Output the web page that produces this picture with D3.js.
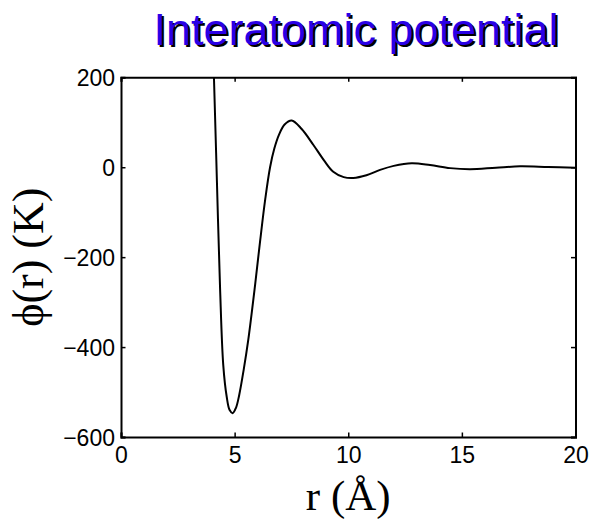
<!DOCTYPE html>
<html><head><meta charset="utf-8">
<script src="https://cdn.jsdelivr.net/npm/d3@7"></script>
<style>body{margin:0;background:#fff}</style>
</head><body>
<svg id="c" width="589" height="520"></svg>
<script>
const title = "Interatomic potential";
const xLabel = "r (Å)";
const yLabel = "\u03D5(r) (K)";
const xTicks = [0, 5, 10, 15, 20];
const yTicks = [200, 0, -200, -400, -600];
const rValues   = [3.95, 4.09, 4.22, 4.36, 4.50, 4.65, 4.78, 4.915, 5.06, 5.20, 5.40, 5.60, 5.90, 6.12, 6.35, 6.56, 6.75, 6.95, 7.20, 7.51, 7.95, 8.46, 8.95, 9.34, 9.80, 10.22, 10.8, 11.4, 12.0, 12.79, 13.6, 14.48, 15.36, 16.5, 17.56, 18.8, 20.0];
const phiValues = [380, 200, -30, -270, -440, -510, -540, -547, -535, -507, -450, -384, -262, -165, -70, 0, 42, 72, 95, 104, 85, 50, 14, -10, -22, -24, -18, -6, 3, 9, 5, -2, -4.4, -1, 2, 0.5, -1];

const svg = d3.select("#c");
const L = 121, R = 575.5, T = 77.3, B = 437;
const x = d3.scaleLinear().domain([0, 20]).range([L, R]);
const y = d3.scaleLinear().domain([-600, 200]).range([B, T]);

svg.append("clipPath").attr("id","clip").append("rect")
  .attr("x", L).attr("y", T).attr("width", R-L).attr("height", B-T);

const data = rValues.map((r,i)=>[r, phiValues[i]]);
svg.append("path").datum(data)
  .attr("clip-path","url(#clip)")
  .attr("fill","none").attr("stroke","#000").attr("stroke-width",2)
  .attr("d", d3.line().x(d=>x(d[0])).y(d=>y(d[1])).curve(d3.curveCatmullRom.alpha(0.5)));

const tl = 4.5;
const font = "Liberation Sans, Arial, Helvetica, sans-serif";
const serif = "Liberation Serif, Times New Roman, DejaVu Serif, serif";
const gb = svg.append("g").attr("transform",`translate(0,${B})`)
  .call(d3.axisBottom(x).tickValues(xTicks).tickSize(-tl).tickPadding(tl+5).tickFormat(d3.format("d")));
const gt = svg.append("g").attr("transform",`translate(0,${T})`)
  .call(d3.axisTop(x).tickValues(xTicks).tickSize(-tl).tickFormat(""));
const gl = svg.append("g").attr("transform",`translate(${L},0)`)
  .call(d3.axisLeft(y).tickValues(yTicks).tickSize(-tl).tickPadding(tl+1.5).tickFormat(d=>d<0?"\u2212"+(-d):d));
const gr = svg.append("g").attr("transform",`translate(${R},0)`)
  .call(d3.axisRight(y).tickValues(yTicks).tickSize(-tl).tickFormat(""));
[gb,gt,gl,gr].forEach(g=>{
  g.select(".domain").attr("stroke","#000").attr("stroke-width",2);
  g.selectAll(".tick line").attr("stroke","#000").attr("stroke-width",1.5);
  g.selectAll("text").attr("font-family",font).attr("font-size",23).attr("fill","#000");
});
gb.selectAll(".tick text").attr("dy","0.71em");
gl.selectAll(".tick text").attr("dy","0.35em");

// title with shadow
const tx = 356, ty = 45;
svg.append("text").attr("x",tx+2).attr("y",ty+2).attr("text-anchor","middle")
  .attr("font-family",font).attr("font-size",45).attr("fill","#000").text(title);
svg.append("text").attr("x",tx).attr("y",ty).attr("text-anchor","middle")
  .attr("font-family",font).attr("font-size",45).attr("fill","#2a00e6").text(title);

// axis labels
svg.append("text").attr("x",(L+R)/2).attr("y",510).attr("text-anchor","middle")
  .attr("font-family",serif).attr("font-size",43).text(xLabel);
svg.append("text").attr("transform",`translate(43,${(T+B)/2}) rotate(-90)`).attr("text-anchor","middle")
  .attr("font-family",serif).attr("font-size",44).text(yLabel);
</script>
</body></html>
